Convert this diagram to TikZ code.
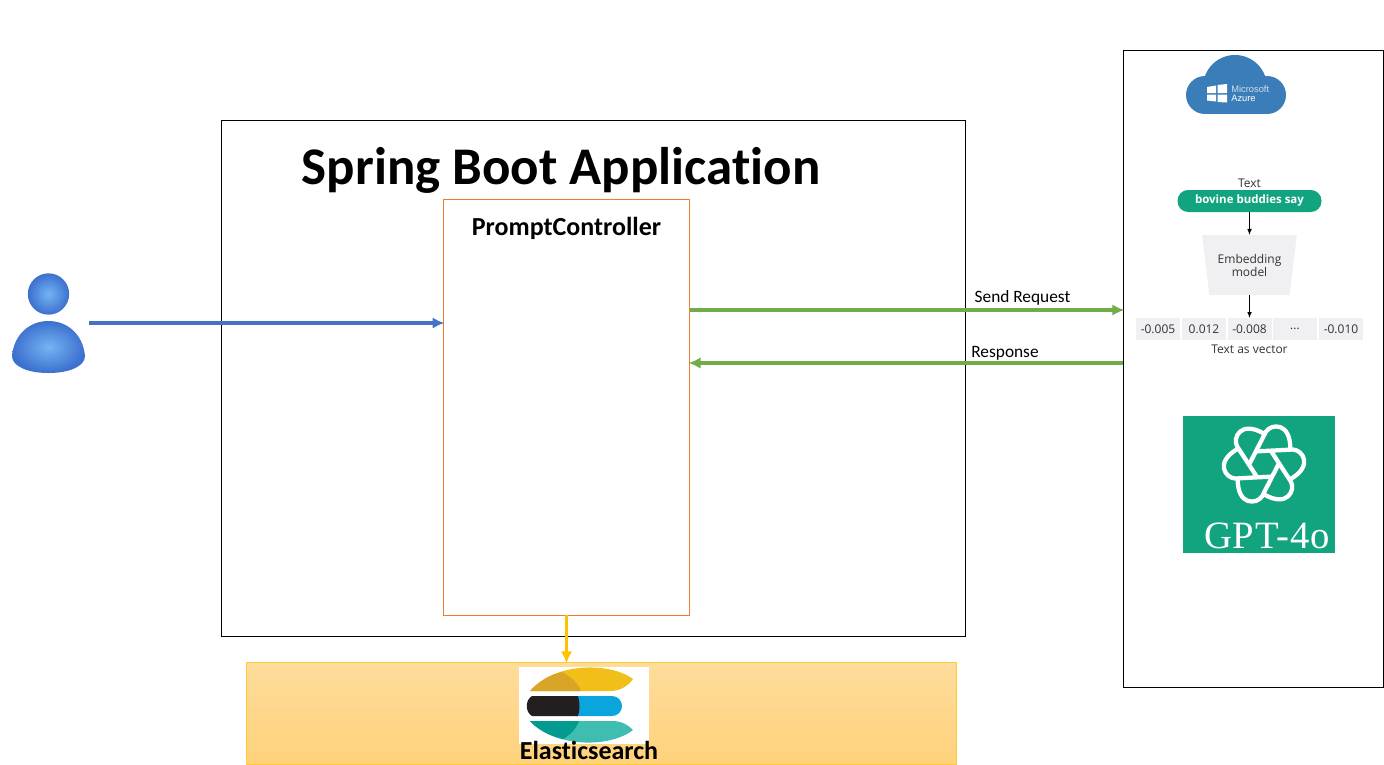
\documentclass[tikz,border=0pt]{standalone}
\usepackage{fontspec}
\setmainfont[Ligatures=NoCommon]{Carlito}
\newfontfamily\vecfont{Open Sans}
\newfontfamily\gptfont[LetterSpace=2.5]{Liberation Serif}
\newfontfamily\azfont{Liberation Sans}
\usetikzlibrary{positioning,shapes.geometric,arrows.meta}
\definecolor{bluearrow}{HTML}{4472C4}
\definecolor{greenarrow}{HTML}{70AD47}
\definecolor{yellowarrow}{HTML}{FFC000}
\definecolor{azureblue}{HTML}{3A7DB8}
\definecolor{gptgreen}{HTML}{12A47F}
\definecolor{cellgray}{HTML}{F0F0F2}
\definecolor{bandtop}{HTML}{FEDC9C}
\definecolor{bandbottom}{HTML}{FFD27A}
\definecolor{ballin}{HTML}{74B4F4}
\definecolor{ballout}{HTML}{3C70CE}
\definecolor{elyellow}{HTML}{F0BF1A}
\definecolor{eldark}{HTML}{D9A526}
\definecolor{elblue}{HTML}{0BA5DE}
\definecolor{elblack}{HTML}{231F20}
\definecolor{elteal}{HTML}{3EBDB0}
\definecolor{eldeep}{HTML}{019B8F}
\begin{document}
\begin{tikzpicture}[
    x=0.75pt, y=-0.75pt,
    boxnode/.style={rectangle, draw=black, line width=0.6pt, fill=white, inner sep=0, outer sep=0},
    promptnode/.style={rectangle, draw={rgb,255:red,237;green,125;blue,49}, line width=0.9pt, fill=white, inner sep=0, outer sep=0},
    cellnode/.style={rectangle, fill=cellgray, minimum height=16.5pt, inner sep=0, outer sep=0, font=\vecfont\fontsize{9}{10}\selectfont, text=black!80},
    smalltext/.style={font=\vecfont\fontsize{9}{10}\selectfont, text=black!80, inner sep=0},
    flowarrow/.style={-{Latex[length=9pt,width=8.5pt]}, line width=2.7pt, shorten >=-1pt},
    thinarrow/.style={-{Latex[length=4.5pt,width=3.5pt]}, line width=0.7pt},
    ]
    \useasboundingbox (0,0) rectangle (1384,764);
    %Nodes
    \node[boxnode, minimum width=558pt, minimum height=387pt] (app) at (593,378) {};
    \node[inner sep=0, font=\bfseries\fontsize{39.7}{44}\selectfont] (title) at (561,170) {Spring Boot Application};
    \node[promptnode, minimum width=185pt, minimum height=311.5pt] (prompt) at (566.5,407.5) {};
    \node[inner sep=0, font=\bfseries\fontsize{19.5}{22}\selectfont] (prompttitle) at (566.5,228) {PromptController};
    \node[boxnode, minimum width=195pt, minimum height=477.75pt] (azure) at (1253,368.5) {};
    \node[rectangle, draw=yellowarrow!80, line width=0.6pt, top color=bandtop, bottom color=bandbottom, minimum width=533pt, minimum height=76.5pt, inner sep=0, outer sep=0] (elastic) at (601.5,713) {};
    \node[inner sep=0, outer sep=0, minimum width=57.75pt, minimum height=74pt] (user) at (50.5,323) {};
    \node[inner sep=0, font=\fontsize{13}{15}\selectfont] (sendlabel) at (1022.5,298) {Send Request};
    \node[inner sep=0, font=\fontsize{13}{15}\selectfont] (resplabel) at (1005,353) {Response};

    %User
    \shade[inner color=ballin, outer color=ballout] (48.5,294) circle (15.5pt);
    \shade[inner color=ballin, outer color=ballout] (12,356) .. controls (14,334) and (30,321) .. (48.5,321) .. controls (67,321) and (83,334) .. (85,356) .. controls (85,366) and (70,373) .. (48.5,373) .. controls (27,373) and (12,366) .. (12,356) -- cycle;

    %Azure cloud
    \begin{scope}
      \clip (1180,50) rectangle (1290,113.5);
      \fill[azureblue] (1205,95) rectangle (1267,114);
      \fill[azureblue] (1235,87) circle (24pt);
      \fill[azureblue] (1205,95) circle (14.25pt);
      \fill[azureblue] (1267,95) circle (14.25pt);
    \end{scope}
    \fill[white] (1207,87) -- (1216,85.5) -- (1216,93) -- (1207,93) -- cycle;
    \fill[white] (1217.5,85) -- (1227,84) -- (1227,93) -- (1217.5,93) -- cycle;
    \fill[white] (1207,94.5) -- (1216,94.5) -- (1216,101.5) -- (1207,100.5) -- cycle;
    \fill[white] (1217.5,94.5) -- (1227,94.5) -- (1227,102.5) -- (1217.5,102) -- cycle;
    \node[inner sep=0, anchor=west, text=white!75!azureblue, font=\azfont\fontsize{7}{8}\selectfont] (azname) at (1231,89.5) {Microsoft};
    \node[inner sep=0, anchor=west, text=white, font=\azfont\fontsize{7}{8}\selectfont] (azsub) at (1231,98) {Azure};

    %Embedding
    \node[smalltext] (texttop) at (1249.5,183) {Text};
    \node[rectangle, rounded corners=8pt, fill=gptgreen, minimum width=108pt, minimum height=16.5pt, inner sep=0, outer sep=0, text=white, font=\vecfont\bfseries\fontsize{8.6}{10}\selectfont] (pill) at (1249.5,201) {bovine buddies say};
    \node[trapezium, shape border rotate=180, trapezium stretches=true, trapezium angle=75.5, fill=cellgray, minimum width=71.25pt, minimum height=45pt, inner sep=0, outer sep=0, align=center, font=\vecfont\fontsize{9}{9.75}\selectfont, text=black!80] (embed) at (1249.5,265) {Embedding\\model};
    \node[cellnode, minimum width=33pt] (cella) at (1158,329) {-0.005};
    \node[cellnode, minimum width=33pt] (cellb) at (1204,329) {0.012};
    \node[cellnode, minimum width=33pt] (cellc) at (1249.5,329) {-0.008};
    \node[cellnode, minimum width=33pt] (celld) at (1295,329) {...};
    \node[cellnode, minimum width=33pt] (celle) at (1341,329) {-0.010};
    \node[smalltext, below=3.5pt of cellc] (vectext) {Text as vector};

    %GPT
    \node[rectangle, fill=gptgreen, minimum width=114pt, minimum height=102.75pt, inner sep=0] (gpt) at (1259,484.5) {};
    \begin{scope}[shift={(1264,464)}]
      \foreach \r in {3,63,...,303} {
        \draw[white, line width=3.2pt, line join=round, rotate=\r] (15,0) -- (-3.5,32) .. controls (-9,40) and (-29,41) .. (-27,13);
      }
    \end{scope}
    \node[inner sep=0, anchor=base, text=white, font=\gptfont\fontsize{29}{32}\selectfont] (gptname) at (1267,548) {GPT-4o};

    %Elastic logo
    \node[rectangle, fill=white, minimum width=97.5pt, minimum height=57.75pt, inner sep=0] (logo) at (584,705.5) {};
    \fill[elyellow] (530,691) .. controls (555,662) and (610,662) .. (633,679) .. controls (628,686) and (620,691) .. (610,691) -- cycle;
    \fill[eldark] (530,691) .. controls (540,680) and (552,674) .. (562,672) .. controls (572,677) and (578,684) .. (581,691) -- cycle;
    \fill[elblue] (575,696) -- (612,696) arc (-90:90:10) -- (575,716) -- cycle;
    \fill[elblack] (532,696) -- (578,696) .. controls (580,702) and (580,710) .. (578,716) -- (532,716) .. controls (525,712) and (525,700) .. (532,696) -- cycle;
    \fill[elteal] (530,721) -- (612,721) .. controls (622,721) and (628,725) .. (633,730) .. controls (610,748) and (555,748) .. (530,721) -- cycle;
    \fill[eldeep] (530,721) -- (579,721) .. controls (576,729) and (570,735) .. (563,739) .. controls (550,736) and (538,730) .. (530,721) -- cycle;
    \node[inner sep=0, anchor=base, font=\bfseries\fontsize{19.5}{22}\selectfont] (elasticname) at (589,759.5) {Elasticsearch};

    %Lines
    \coordinate (reqa) at (prompt.east |- 0,310);
    \coordinate (reqb) at (azure.west |- 0,310);
    \coordinate (resa) at (azure.west |- 0,363);
    \coordinate (resb) at (prompt.east |- 0,363);
    \draw[flowarrow, bluearrow] (user.east) -- (user.east -| prompt.west);
    \draw[flowarrow, greenarrow] (reqa) -- (reqb);
    \draw[flowarrow, greenarrow] (resa) -- (resb);
    \draw[flowarrow, yellowarrow] (prompt.south) -- (prompt.south |- elastic.north);
    \draw[thinarrow] (pill.south) -- (embed.north);
    \draw[thinarrow] (embed.south) -- (cellc.north);
\end{tikzpicture}
\end{document}
